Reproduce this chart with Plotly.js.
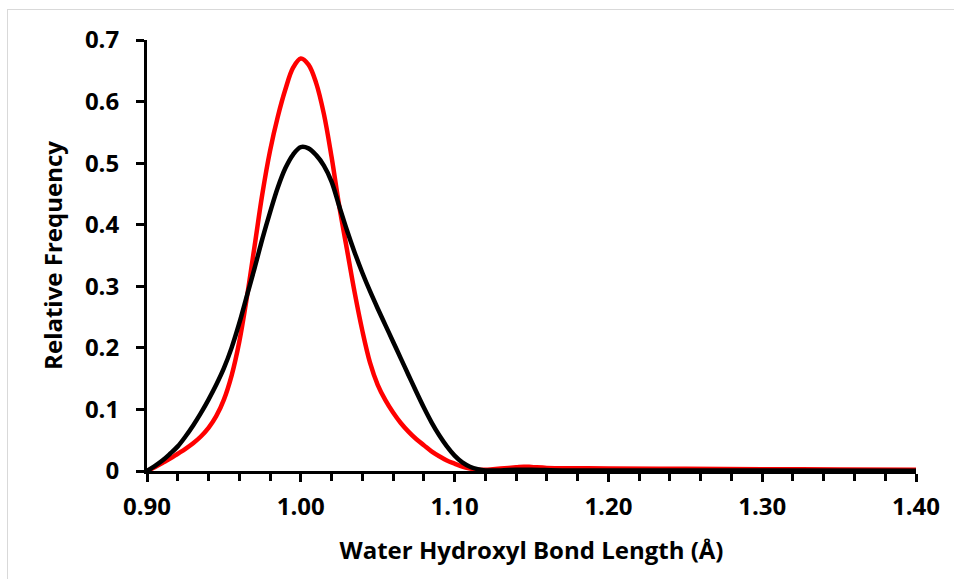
<!DOCTYPE html>
<html>
<head>
<meta charset="utf-8">
<script src="https://cdn.plot.ly/plotly-3.0.1.min.js"></script>
<style>
  html, body { margin: 0; padding: 0; overflow: hidden; background: #fff; }
  #wrap { position: relative; width: 954px; height: 579px; }
  #chart { width: 954px; height: 579px; }
  #frame { position: absolute; left: 7px; top: 9px; width: 960px; height: 600px;
           border: 1px solid #d9d9d9; pointer-events: none; }
</style>
</head>
<body>
<div id="wrap">
  <div id="chart"></div>
  <div id="frame"></div>
</div>
<script>
// Red series
const redX = [0.900, 0.905, 0.910, 0.915, 0.920, 0.925, 0.930, 0.935, 0.940, 0.945, 0.950, 0.955, 0.960, 0.965, 0.970,
              0.975, 0.980, 0.985, 0.990, 0.995, 1.000, 1.005, 1.010, 1.015, 1.020, 1.025, 1.030, 1.035, 1.040, 1.045,
              1.050, 1.055, 1.060, 1.065, 1.070, 1.075, 1.080, 1.085, 1.090, 1.095, 1.100, 1.105, 1.110, 1.115, 1.120,
              1.125, 1.130, 1.140, 1.145, 1.150, 1.160, 1.180, 1.200, 1.250, 1.300, 1.350, 1.400];
const redY = [0.000, 0.006, 0.013, 0.020, 0.028, 0.036, 0.045, 0.056, 0.070, 0.089, 0.116, 0.155, 0.210, 0.283, 0.366,
              0.450, 0.520, 0.575, 0.620, 0.655, 0.670, 0.660, 0.630, 0.580, 0.510, 0.430, 0.360, 0.290, 0.228, 0.176,
              0.140, 0.115, 0.095, 0.078, 0.064, 0.052, 0.042, 0.032, 0.024, 0.017, 0.012, 0.007, 0.004, 0.002, 0.002,
              0.003, 0.004, 0.006, 0.007, 0.0065, 0.005, 0.0045, 0.004, 0.0035, 0.003, 0.0025, 0.002];
// Black series
const blackX = [0.900, 0.905, 0.910, 0.915, 0.920, 0.925, 0.930, 0.935, 0.940, 0.945, 0.950, 0.955, 0.960, 0.965, 0.970,
                0.975, 0.980, 0.985, 0.990, 0.995, 1.000, 1.005, 1.010, 1.015, 1.020, 1.025, 1.030, 1.035, 1.040, 1.045,
                1.050, 1.055, 1.060, 1.065, 1.070, 1.075, 1.080, 1.085, 1.090, 1.095, 1.100, 1.105, 1.110, 1.115, 1.120,
                1.130, 1.140, 1.150, 1.170, 1.200, 1.300, 1.400];
const blackY = [0.000, 0.008, 0.017, 0.028, 0.040, 0.056, 0.074, 0.094, 0.116, 0.140, 0.167, 0.200, 0.240, 0.285, 0.330,
                0.377, 0.420, 0.460, 0.492, 0.514, 0.526, 0.524, 0.513, 0.496, 0.470, 0.430, 0.391, 0.355, 0.322, 0.292,
                0.264, 0.237, 0.210, 0.183, 0.156, 0.129, 0.103, 0.079, 0.058, 0.040, 0.025, 0.014, 0.007, 0.003, 0.001,
                0.001, 0.002, 0.002, 0.001, 0.001, 0.0008, 0.0005];

const xTitle = 'Water Hydroxyl Bond Length (Å)';
const yTitle = 'Relative Frequency';

const fontFam = '"Open Sans", Lato, sans-serif';

const traces = [
  { x: redX, y: redY, mode: 'lines', line: { color: '#ff0000', width: 4.5, shape: 'spline', smoothing: 1 },
    hoverinfo: 'skip', showlegend: false },
  { x: blackX, y: blackY, mode: 'lines', line: { color: '#000000', width: 4.5, shape: 'spline', smoothing: 1 },
    hoverinfo: 'skip', showlegend: false }
];

const layout = {
  width: 954, height: 579,
  margin: { l: 147, r: 38, t: 40, b: 108 },
  paper_bgcolor: '#ffffff', plot_bgcolor: '#ffffff',
  font: { family: fontFam, color: '#000', size: 24, weight: 'bold' },
  xaxis: {
    range: [0.9, 1.4], dtick: 0.1, tick0: 0.9, tickformat: '.2f',
    showgrid: false, zeroline: false,
    showline: true, linecolor: '#000', linewidth: 3,
    ticks: 'outside', ticklen: 8, tickwidth: 3, tickcolor: '#000',
    minor: { dtick: 0.02, ticks: 'outside', ticklen: 7, tickwidth: 3, tickcolor: '#000', showgrid: false },
    tickfont: { family: fontFam, size: 24, weight: 'bold', color: '#000' },
    ticklabelstandoff: 4,
    title: { text: xTitle, font: { family: fontFam, size: 24, weight: 'bold', color: '#000' }, standoff: 22 }
  },
  yaxis: {
    range: [0, 0.7], dtick: 0.1, tick0: 0,
    showgrid: false, zeroline: false,
    showline: true, linecolor: '#000', linewidth: 3,
    ticks: 'outside', ticklen: 8, tickwidth: 3, tickcolor: '#000',
    tickfont: { family: fontFam, size: 24, weight: 'bold', color: '#000' },
    ticklabelstandoff: 12,
    title: { text: yTitle, font: { family: fontFam, size: 24, weight: 'bold', color: '#000' }, standoff: 16 }
  }
};

Plotly.newPlot('chart', traces, layout, { staticPlot: true, displayModeBar: false });
</script>
</body>
</html>
